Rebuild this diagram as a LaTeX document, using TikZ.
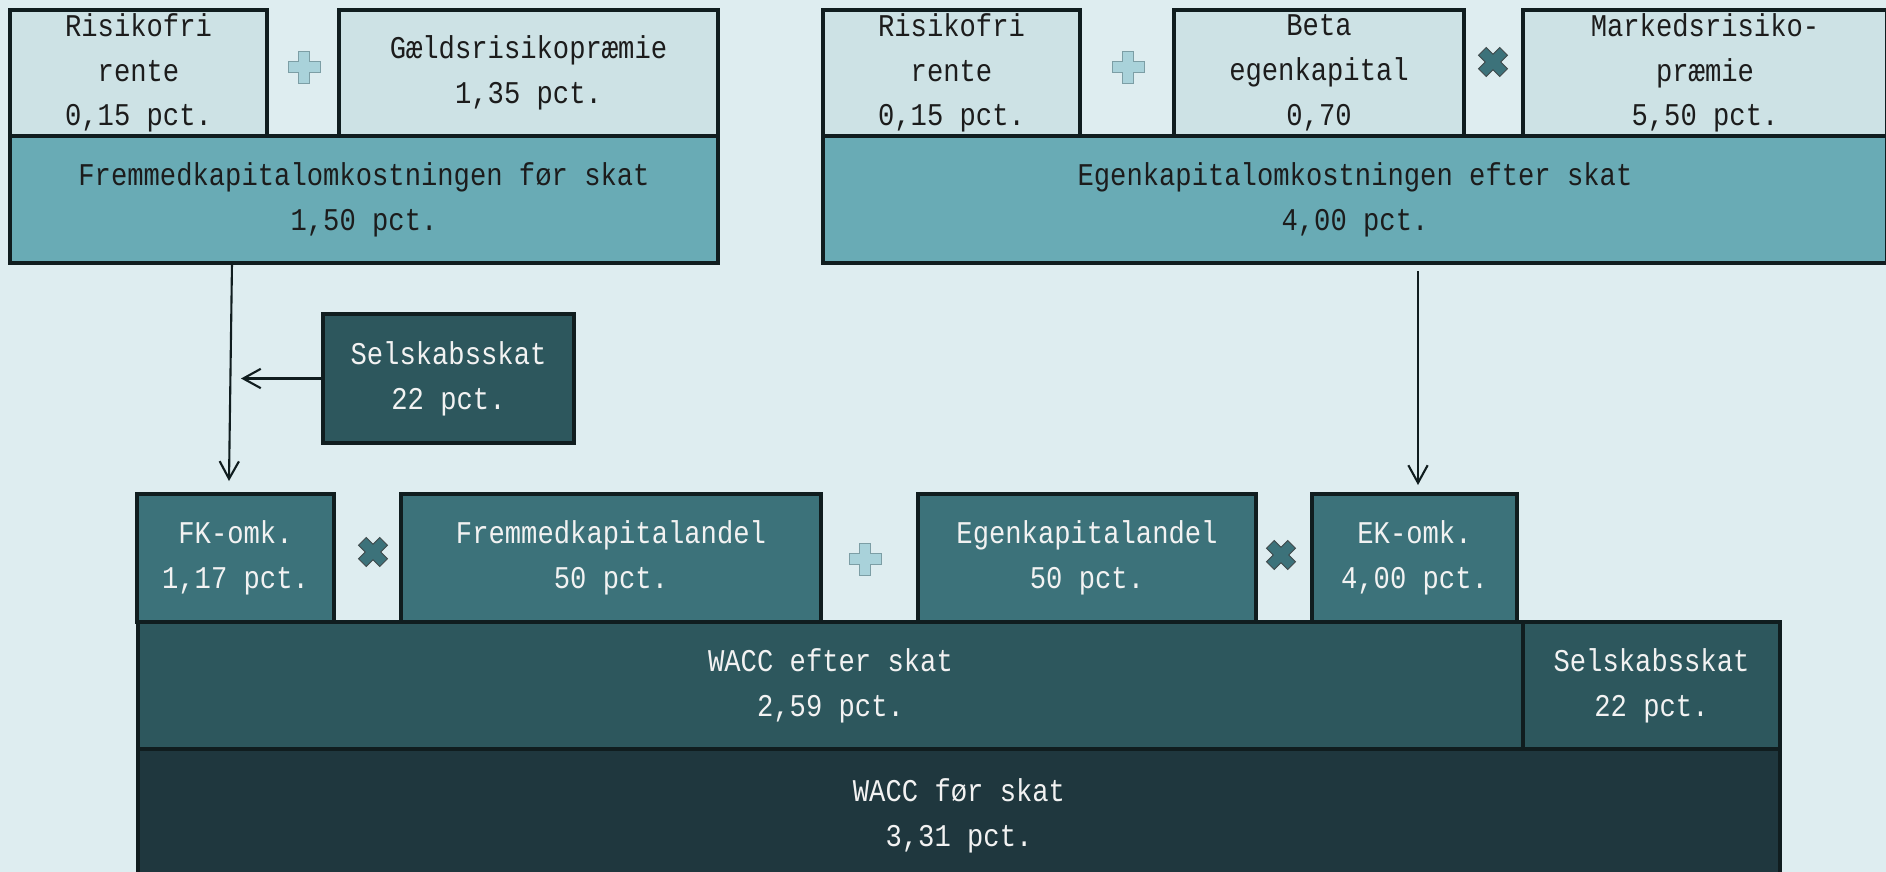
\documentclass[tikz,border=0pt]{standalone}
\usepackage{fontspec}
\newfontfamily\boxfont[FakeStretch=0.86]{Liberation Mono}
\usetikzlibrary{arrows.meta}
\definecolor{bgcol}{HTML}{DEEDF0}
\definecolor{lightcol}{HTML}{CDE2E5}
\definecolor{midcol}{HTML}{69ABB5}
\definecolor{tealcol}{HTML}{3C727A}
\definecolor{darkcol}{HTML}{2D575D}
\definecolor{deepcol}{HTML}{1F373E}
\definecolor{edgecol}{HTML}{101D1F}
\definecolor{plusfill}{HTML}{A9D2DA}
\definecolor{plusline}{HTML}{7C9EA5}
\definecolor{textdark}{HTML}{1C1C1C}
\definecolor{textlight}{HTML}{F2F2F2}

\begin{document}
\begin{tikzpicture}[x = .02cm, y = -.02cm,
  box/.style = {draw = edgecol, line width = 2pt, inner sep = 0pt, outer sep = 0pt,
    align = center, font = \boxfont\fontsize{18}{25.5}\selectfont},
  lightbox/.style = {box, fill = lightcol, text = textdark},
  midbox/.style = {box, fill = midcol, text = textdark},
  tealbox/.style = {box, fill = tealcol, text = textlight},
  darkbox/.style = {box, fill = darkcol, text = textlight},
  deepbox/.style = {box, fill = deepcol, text = textlight},
  arr/.style = {draw = edgecol, line width = 1.2pt, -{Straight Barb[length = 10pt, width = 11pt]}},
  plussign/.pic = {\filldraw[fill = plusfill, draw = plusline, line width = .5pt]
    (-5.5,-16) -- (5.5,-16) -- (5.5,-5.5) -- (16,-5.5) -- (16,5.5) -- (5.5,5.5) -- (5.5,16)
    -- (-5.5,16) -- (-5.5,5.5) -- (-16,5.5) -- (-16,-5.5) -- (-5.5,-5.5) -- cycle;},
  timessign/.pic = {\filldraw[fill = tealcol, draw = edgecol!80, line width = .5pt, rotate = 45]
    (-5.5,-15) -- (5.5,-15) -- (5.5,-5.5) -- (15,-5.5) -- (15,5.5) -- (5.5,5.5) -- (5.5,15)
    -- (-5.5,15) -- (-5.5,5.5) -- (-15,5.5) -- (-15,-5.5) -- (-5.5,-5.5) -- cycle;}]
\useasboundingbox (0,0) rectangle (1886,872);
\fill[bgcol] (0,0) rectangle (1886,872);

% debt side
\node[lightbox, minimum width = 5.14cm, minimum height = 2.52cm] (rfdebt) at (138.5,73) {Risikofri\\rente\\0,15 pct.};
\node[lightbox, minimum width = 7.58cm, minimum height = 2.52cm] (debtprem) at (528.5,73) {Gældsrisikopræmie\\1,35 pct.};
\node[midbox, minimum width = 14.16cm, minimum height = 2.54cm] (fkcost) at (364,199.5) {Fremmedkapitalomkostningen før skat\\1,50 pct.};
\pic at (304,67) {plussign};

% equity side
\node[lightbox, minimum width = 5.14cm, minimum height = 2.52cm] (rfeq) at (951.5,73) {Risikofri\\rente\\0,15 pct.};
\node[lightbox, minimum width = 5.80cm, minimum height = 2.52cm] (beta) at (1319,73) {Beta\\egenkapital\\0,70};
\node[lightbox, minimum width = 7.28cm, minimum height = 2.52cm] (mktprem) at (1705,73) {Markedsrisiko-\\præmie\\5,50 pct.};
\node[midbox, minimum width = 21.28cm, minimum height = 2.54cm] (ekcost) at (1355,199.5) {Egenkapitalomkostningen efter skat\\4,00 pct.};
\pic at (1128,67) {plussign};
\pic at (1493,62) {timessign};

% tax
\node[darkbox, minimum width = 5.02cm, minimum height = 2.58cm] (tax) at (448.5,378.5) {Selskabsskat\\22 pct.};

% WACC row
\node[tealbox, minimum width = 3.94cm, minimum height = 2.56cm] (fkomk) at (235.5,558) {FK-omk.\\1,17 pct.};
\node[tealbox, minimum width = 8.40cm, minimum height = 2.56cm] (fkshare) at (611,558) {Fremmedkapitalandel\\50 pct.};
\node[tealbox, minimum width = 6.76cm, minimum height = 2.56cm] (ekshare) at (1087,558) {Egenkapitalandel\\50 pct.};
\node[tealbox, minimum width = 4.10cm, minimum height = 2.56cm] (ekomk) at (1414.5,558) {EK-omk.\\4,00 pct.};
\pic at (373,552) {timessign};
\pic at (865,559) {plussign};
\pic at (1281,555) {timessign};

\node[darkbox, minimum width = 27.70cm, minimum height = 2.54cm] (waccafter) at (830.5,685.5) {WACC efter skat\\2,59 pct.};
\node[darkbox, minimum width = 5.14cm, minimum height = 2.54cm] (waccitax) at (1651.5,685.5) {Selskabsskat\\22 pct.};
\node[deepbox, minimum width = 32.84cm, minimum height = 2.66cm] (waccbefore) at (959,815.5) {WACC før skat\\3,31 pct.};

% arrows
\coordinate (fkx) at (232,0);
\coordinate (fkin) at (229,481);
\coordinate (taxin) at (241,378.5);
\coordinate (ekout) at (1418,271);
\coordinate (ekin) at (1418,485);
\draw[arr] (fkcost.south -| fkx) -- (fkin);
\draw[arr] (tax.west) -- (taxin);
\draw[arr] (ekout) -- (ekin);
\end{tikzpicture}
\end{document}
